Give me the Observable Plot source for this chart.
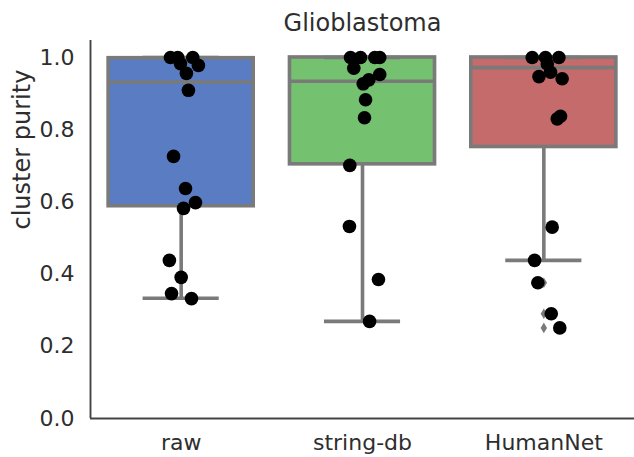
<!DOCTYPE html>
<html>
<head>
<meta charset="utf-8">
<script src="https://cdn.jsdelivr.net/npm/d3@7"></script>
<script src="https://cdn.jsdelivr.net/npm/@observablehq/plot@0.6"></script>
<style>
  html, body { margin: 0; padding: 0; background: white; }
</style>
</head>
<body>
<div id="chart"></div>
<script>
// Categories and box statistics
const categories = ["raw", "string-db", "HumanNet"];
const boxColors = ["#5a7cc3", "#74c16f", "#c66b6b"];
const q1 = [0.588, 0.704, 0.752];
const median = [0.932, 0.934, 0.972];
const q3 = [0.998, 1.0, 1.0];
const whiskerLow = [0.333, 0.269, 0.438];
const whiskerHigh = [1.0, 1.0, 1.0];
const humanOutliers = [0.376, 0.290, 0.251];

// Strip points: values and horizontal jitter (category units)
const rawValues = [1.0, 1.0, 1.0, 0.983, 0.978, 0.956, 0.909, 0.726, 0.637, 0.598, 0.582, 0.438, 0.391, 0.346, 0.332];
const rawJitter = [-0.059, -0.019, 0.064, -0.004, 0.095, 0.029, 0.040, -0.042, 0.024, 0.079, 0.013, -0.065, 0.0, -0.053, 0.057];
const stringValues = [1.0, 1.0, 1.0, 1.0, 0.970, 0.953, 0.938, 0.927, 0.883, 0.833, 0.701, 0.532, 0.385, 0.269];
const stringJitter = [-0.066, -0.011, 0.068, 0.095, -0.048, 0.095, 0.035, 0.004, 0.017, 0.011, -0.070, -0.072, 0.088, 0.039];
const humanValues = [1.0, 1.0, 1.0, 0.982, 0.959, 0.947, 0.941, 0.837, 0.830, 0.530, 0.438, 0.376, 0.290, 0.251];
const humanJitter = [-0.064, 0.009, 0.083, 0.019, 0.037, -0.027, 0.101, 0.092, 0.074, 0.046, -0.051, -0.033, 0.041, 0.088];

const boxes = categories.map((c, i) => ({
  i, c, color: boxColors[i], q1: q1[i], med: median[i], q3: q3[i], lo: whiskerLow[i], hi: whiskerHigh[i]
}));
const points = [
  ...rawValues.map((v, k) => ({i: 0, v, j: rawJitter[k]})),
  ...stringValues.map((v, k) => ({i: 1, v, j: stringJitter[k]})),
  ...humanValues.map((v, k) => ({i: 2, v, j: humanJitter[k]}))
];
const outliers = humanOutliers.map(v => ({i: 2, v}));

const gray = "#7a7a7a";
const text = "#2e2e2e";
const lw = 3.6;

// thin diamond like matplotlib's "d" marker
const thinDiamond = {
  draw(context, size) {
    const h = Math.sqrt(size) * 0.75, w = h * 0.6;
    context.moveTo(0, -h);
    context.lineTo(w, 0);
    context.lineTo(0, h);
    context.lineTo(-w, 0);
    context.closePath();
  }
};

const chart = Plot.plot({
  width: 634,
  height: 457,
  marginLeft: 90,
  marginRight: 0,
  marginTop: 40,
  marginBottom: 39,
  style: {fontFamily: "'DejaVu Sans', sans-serif", fontSize: "22px", color: text, background: "white"},
  x: {domain: [-0.5, 2.5], ticks: [0, 1, 2], tickFormat: i => categories[i], tickSize: 0, tickPadding: 16, label: null},
  y: {domain: [0, 1.047], ticks: [0, 0.2, 0.4, 0.6, 0.8, 1.0], tickFormat: d3.format(".1f"), tickSize: 0, tickPadding: 16, label: null},
  marks: [
    // whiskers
    Plot.ruleX(boxes, {x: "i", y1: "lo", y2: "q1", stroke: gray, strokeWidth: lw}),
    Plot.ruleX(boxes, {x: "i", y1: "q3", y2: "hi", stroke: gray, strokeWidth: lw}),
    // boxes
    Plot.rect(boxes, {x1: d => d.i - 0.4, x2: d => d.i + 0.4, y1: "q1", y2: "q3", fill: "color", stroke: gray, strokeWidth: lw}),
    // medians
    Plot.ruleY(boxes, {y: "med", x1: d => d.i - 0.4, x2: d => d.i + 0.4, stroke: gray, strokeWidth: lw}),
    // caps
    Plot.ruleY(boxes, {y: "lo", x1: d => d.i - 0.2, x2: d => d.i + 0.2, stroke: gray, strokeWidth: lw, strokeLinecap: "square"}),
    Plot.ruleY(boxes, {y: "hi", x1: d => d.i - 0.2, x2: d => d.i + 0.2, stroke: gray, strokeWidth: lw, strokeLinecap: "square"}),
    // outliers
    Plot.dot(outliers, {x: "i", y: "v", symbol: thinDiamond, r: 4, fill: gray}),
    // strip points
    Plot.dot(points, {x: d => d.i + d.j, y: "v", r: 6.8, fill: "black"}),
    // spines
    Plot.ruleX([-0.5], {stroke: "#444", strokeWidth: 1.9}),
    Plot.ruleY([0], {stroke: "#444", strokeWidth: 1.9}),
    // title and y label
    Plot.text(["Glioblastoma"], {frameAnchor: "top", lineAnchor: "bottom", dy: -10, fontSize: 24, fill: text}),
    Plot.text(["cluster purity"], {frameAnchor: "left", dx: -68, rotate: -90, fontSize: 24, fill: text})
  ]
});
document.getElementById("chart").appendChild(chart);
</script>
</body>
</html>
